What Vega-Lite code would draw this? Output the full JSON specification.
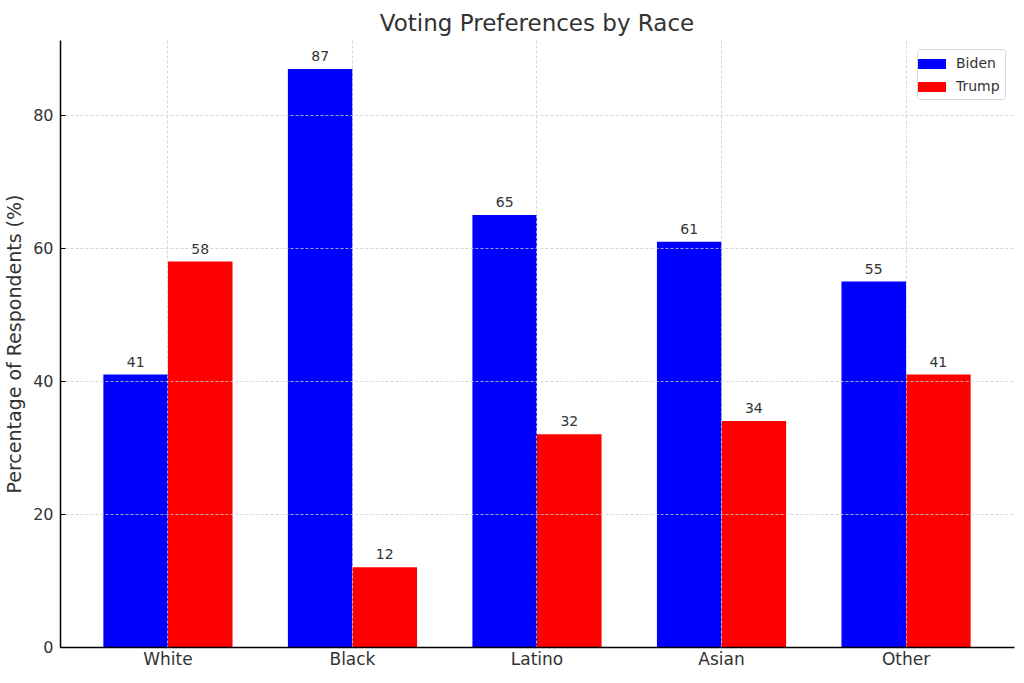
{
  "$schema": "https://vega.github.io/schema/vega-lite/v6.json",
  "autosize": {"type": "none"},
  "padding": {"left": 60, "top": 40, "right": 10, "bottom": 36},
  "width": 954,
  "height": 607,
  "background": "white",
  "title": {
    "text": "Voting Preferences by Race",
    "fontSize": 23,
    "font": "DejaVu Sans",
    "fontWeight": "normal",
    "color": "#333333",
    "anchor": "middle",
    "baseline": "bottom",
    "offset": -19
  },
  "config": {
    "view": {"stroke": null},
    "font": "DejaVu Sans"
  },
  "data": {
    "values": [
      {"race": "White", "candidate": "Biden", "pct": 41},
      {"race": "White", "candidate": "Trump", "pct": 58},
      {"race": "Black", "candidate": "Biden", "pct": 87},
      {"race": "Black", "candidate": "Trump", "pct": 12},
      {"race": "Latino", "candidate": "Biden", "pct": 65},
      {"race": "Latino", "candidate": "Trump", "pct": 32},
      {"race": "Asian", "candidate": "Biden", "pct": 61},
      {"race": "Asian", "candidate": "Trump", "pct": 34},
      {"race": "Other", "candidate": "Biden", "pct": 55},
      {"race": "Other", "candidate": "Trump", "pct": 41}
    ]
  },
  "encoding": {
    "x": {
      "field": "race",
      "type": "nominal",
      "sort": ["White", "Black", "Latino", "Asian", "Other"],
      "scale": {"paddingInner": 0.3, "paddingOuter": 0.235},
      "axis": {
        "title": null,
        "labelAngle": 0,
        "labelFontSize": 17,
        "labelColor": "#333333",
        "labelPadding": 4,
        "ticks": false,
        "bandPosition": 0.5,
        "grid": true,
        "gridColor": "#cccccc",
        "gridDash": [3, 2],
        "gridWidth": 0.8,
        "domainColor": "#000000",
        "domainWidth": 1.5,
        "zindex": 1
      }
    },
    "xOffset": {
      "field": "candidate",
      "type": "nominal",
      "scale": {"paddingInner": 0, "paddingOuter": 0}
    },
    "y": {
      "field": "pct",
      "type": "quantitative",
      "scale": {"domain": [0, 91.35], "nice": false, "zero": true},
      "axis": {
        "title": "Percentage of Respondents (%)",
        "titleFontSize": 19,
        "titleFontWeight": "normal",
        "titleColor": "#333333",
        "titlePadding": 8,
        "values": [0, 20, 40, 60, 80],
        "labelFontSize": 16,
        "labelColor": "#333333",
        "tickSize": -5,
        "tickColor": "#000000",
        "labelPadding": 12,
        "grid": true,
        "gridColor": "#cccccc",
        "gridDash": [3, 2],
        "gridWidth": 0.8,
        "domainColor": "#000000",
        "domainWidth": 1.5,
        "zindex": 1
      }
    }
  },
  "layer": [
    {
      "mark": {"type": "bar"},
      "encoding": {
        "color": {
          "field": "candidate",
          "type": "nominal",
          "scale": {"domain": ["Biden", "Trump"], "range": ["#0000ff", "#ff0000"]},
          "legend": {
            "title": null,
            "orient": "top-right",
            "offset": 9,
            "labelFontSize": 14,
            "labelColor": "#333333",
            "symbolType": "M-1.4,-0.5H1.4V0.5H-1.4Z",
            "symbolSize": 400,
            "symbolStrokeWidth": 0,
            "rowPadding": 6,
            "strokeColor": "#d8d8d8",
            "fillColor": "white",
            "cornerRadius": 3,
            "padding": 5,
            "labelOffset": 14
          }
        }
      }
    },
    {
      "mark": {"type": "text", "baseline": "alphabetic", "dy": -8, "fontSize": 14, "color": "#333333"},
      "encoding": {
        "text": {"field": "pct", "type": "quantitative"}
      }
    }
  ]
}
